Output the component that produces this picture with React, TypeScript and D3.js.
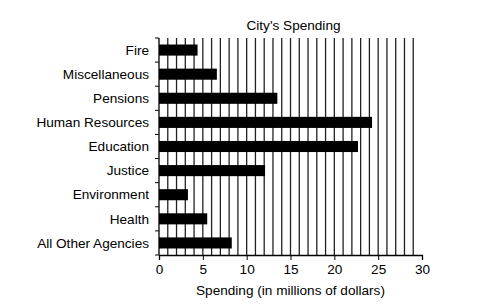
import React, { useEffect, useRef } from "react";
import * as d3 from "d3";

const categories = [
  "Fire",
  "Miscellaneous",
  "Pensions",
  "Human Resources",
  "Education",
  "Justice",
  "Environment",
  "Health",
  "All Other Agencies",
];
const spending = [4.4, 6.6, 13.5, 24.3, 22.7, 12.1, 3.3, 5.5, 8.3];
const xTicks = [0, 5, 10, 15, 20, 25, 30];

const W = 484;
const H = 308;
const margin = { top: 38, right: 62, bottom: 53, left: 159 };
const FONT = "Liberation Sans, Arial, sans-serif";
const FS = "13.6px";

const App = () => {
  const ref = useRef<SVGGElement>(null);

  useEffect(() => {
    const g = d3.select(ref.current);
    g.selectAll("*").remove();
    const iw = W - margin.left - margin.right;
    const ih = H - margin.top - margin.bottom;

    const x = d3.scaleLinear().domain([0, 30]).range([0, iw]);
    const y = d3.scaleBand().domain(categories).range([0, ih]).paddingInner(0.54).paddingOuter(0.27);
    const band = ih / categories.length;

    // vertical grid, one per million
    g.selectAll("line.grid")
      .data(d3.range(1, 30))
      .enter()
      .append("line")
      .attr("class", "grid")
      .attr("x1", d => x(d))
      .attr("x2", d => x(d))
      .attr("y1", 0)
      .attr("y2", ih)
      .attr("stroke", "#222")
      .attr("stroke-width", 1.3);

    g.selectAll("rect.bar")
      .data(spending)
      .enter()
      .append("rect")
      .attr("class", "bar")
      .attr("x", 0)
      .attr("y", (d, i) => y(categories[i]) as number)
      .attr("width", d => x(d))
      .attr("height", y.bandwidth())
      .attr("fill", "#000");

    // left axis with boundary ticks
    g.append("line")
      .attr("x1", 0).attr("x2", 0).attr("y1", 0).attr("y2", ih)
      .attr("stroke", "#000").attr("stroke-width", 1.3);
    g.selectAll("line.ytick")
      .data(d3.range(0, categories.length + 1))
      .enter()
      .append("line")
      .attr("class", "ytick")
      .attr("x1", -4).attr("x2", 0)
      .attr("y1", d => d * band).attr("y2", d => d * band)
      .attr("stroke", "#000");
    g.selectAll("text.ylab")
      .data(categories)
      .enter()
      .append("text")
      .attr("class", "ylab")
      .attr("x", -10)
      .attr("y", (d, i) => i * band + band / 2)
      .attr("dy", "0.35em")
      .attr("text-anchor", "end")
      .style("font-family", FONT)
      .style("font-size", FS)
      .text(d => d);

    // bottom axis
    const xAxis = d3.axisBottom(x).tickValues(xTicks).tickSize(5).tickPadding(4);
    const ax = g.append("g").attr("transform", `translate(0,${ih})`).call(xAxis);
    ax.select(".domain").attr("stroke", "#000").attr("stroke-width", 1.3);
    ax.selectAll("text")
      .style("font-family", FONT)
      .style("font-size", FS)
      .attr("fill", "#000");

    g.append("text")
      .attr("x", iw / 2)
      .attr("y", ih + 40)
      .attr("text-anchor", "middle")
      .style("font-family", FONT)
      .style("font-size", FS)
      .text("Spending (in millions of dollars)");

    g.append("text")
      .attr("x", iw / 2 + 3)
      .attr("y", -8)
      .attr("text-anchor", "middle")
      .style("font-family", FONT)
      .style("font-size", FS)
      .text("City's Spending");
  }, []);

  return (
    <svg width={W} height={H} style={{ position: "absolute", left: 0, top: 0 }}>
      <rect width={W} height={H} fill="#fff" />
      <g ref={ref} transform={`translate(${margin.left} ${margin.top})`} />
    </svg>
  );
};

export default App;
